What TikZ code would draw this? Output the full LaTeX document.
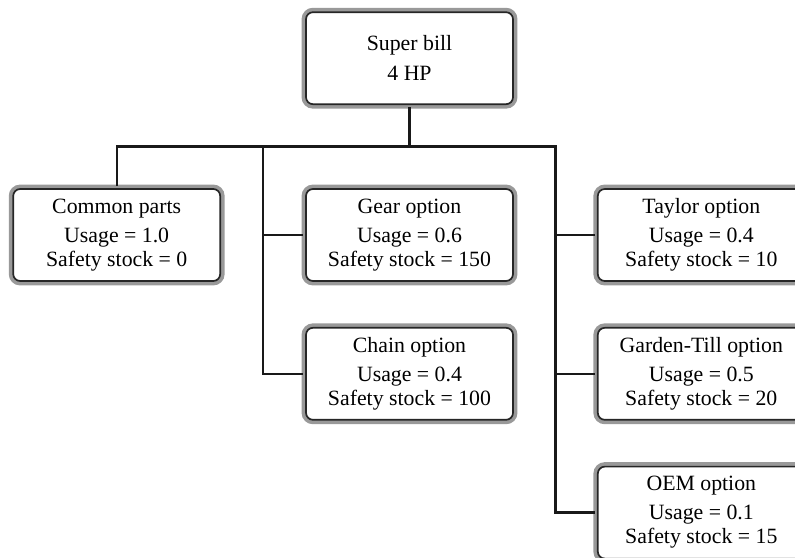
\documentclass[tikz,border=0pt]{standalone}
\usepackage{fontspec}
\setmainfont{Liberation Serif}
\usetikzlibrary{positioning,calc}

\begin{document}
\begin{tikzpicture}[
  x=0.5pt,y=-0.5pt,
  node distance=19pt and 38.5pt,
  part/.style={draw=black!85,line width=0.85pt,rounded corners=3.5pt,fill=white,
    preaction={draw=black!40,line width=4.4pt},
    align=center,minimum width=103.5pt,minimum height=46pt,inner sep=0pt,outer sep=2.2pt,
    font=\fontsize{10.9}{12}\selectfont},
  link/.style={draw=black!90,line width=1.15pt,line cap=rect}
]
  \useasboundingbox[clip] (0,0) rectangle (795,557);
  \node[part] (gear) at (409.5,235) {Gear option\\[2.5pt]Usage = 0.6\\Safety stock = 150};
  \node[part,above=38pt of gear] (super) {Super bill\\[3pt]4 HP};
  \node[part,left=of gear] (common) {Common parts\\[2.5pt]Usage = 1.0\\Safety stock = 0};
  \node[part,right=38pt of gear] (taylor) {Taylor option\\[2.5pt]Usage = 0.4\\Safety stock = 10};
  \node[part,below=of gear] (chain) {Chain option\\[2.5pt]Usage = 0.4\\Safety stock = 100};
  \node[part,below=of taylor] (garden) {Garden-Till option\\[2.5pt]Usage = 0.5\\Safety stock = 20};
  \node[part,below=of garden] (oem) {OEM option\\[2.5pt]Usage = 0.1\\Safety stock = 15};
  % bus and trunks
  \coordinate (bus) at ($(super.south)!0.5!(gear.north)$);
  \coordinate (lmid) at ($(common.east)!0.5!(gear.west)$);
  \coordinate (rmid) at ($(gear.east)!0.5!(taylor.west)$);
  \coordinate (ltop) at (lmid |- bus);
  \coordinate (rtop) at (rmid |- bus);
  \draw[link] (super.south) -- (bus);
  \draw[link] (common.north) |- (rtop);
  \draw[link] (ltop) |- (chain.west);
  \draw[link] (rtop) |- (oem.west);
  \draw[link] (gear.west) -- (gear.west -| ltop);
  \draw[link] (taylor.west) -- (taylor.west -| rtop);
  \draw[link] (garden.west) -- (garden.west -| rtop);
\end{tikzpicture}
\end{document}
